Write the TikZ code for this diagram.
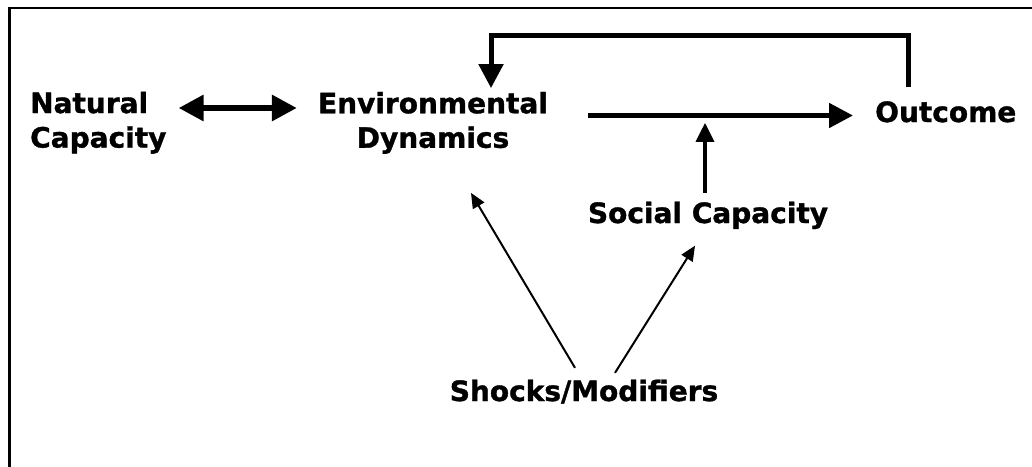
\documentclass[tikz,border=0pt]{standalone}
\usepackage{fontspec}
\setmainfont{DejaVu Sans}
\newfontfamily\lblfont[FakeBold=1.2]{DejaVu Sans Bold}
\usetikzlibrary{arrows.meta,calc}
\begin{document}
\begin{tikzpicture}[x=1pt,y=-1pt,
  lbl/.style={font=\lblfont\fontsize{28}{34.5}\selectfont, inner sep=0pt},
  thickarrow/.style={line width=5pt, -{Triangle[length=24pt,width=24pt]}},
  dblarrow/.style={line width=6pt, {Triangle[length=25pt,width=25pt]}-{Triangle[length=25pt,width=25pt]}},
  midarrow/.style={line width=3.5pt, -{Triangle[length=19pt,width=18pt]}},
  thinarrow/.style={line width=2pt, -{Triangle[length=15pt,width=13pt]}},
  frameline/.style={line width=2.5pt}]
\useasboundingbox (0,0) rectangle (1032,466);
\draw[frameline] (9.5,470) -- (9.5,8) -- (1040,8);

\node[lbl, align=left, anchor=west] (nat) at (30,122.7) {Natural\\Capacity};
\node[lbl, align=center, anchor=center] (env) at (433,122.9) {Environmental\\Dynamics};
\node[lbl, anchor=base west] (out) at (875,122) {Outcome};
\node[lbl, anchor=base] (soc) at (708,223) {Social Capacity};
\node[lbl, anchor=base] (shk) at (584,401) {Shocks/Modifiers};

% double arrow
\draw[dblarrow] ([xshift=12pt,yshift=14.7pt]nat.east) coordinate (ds)
  -- ($(ds -| env.west)+(-21,0)$);
% feedback loop
\draw[thickarrow] ([xshift=-37pt,yshift=14pt]out.north) -- ([xshift=-37pt,yshift=66pt]out.north)
  -| ([xshift=58pt,yshift=3.7pt]env.north);
% main arrow
\draw[thickarrow] ([xshift=40pt,yshift=7.4pt]env.east) coordinate (ms)
  -- ($(ms -| out.west)+(-22,0)$);
% social capacity arrow
\draw[midarrow] ([xshift=-3pt,yshift=8.7pt]soc.north) -- ([xshift=-3pt,yshift=78.7pt]soc.north);
% shocks arrows
\draw[thinarrow] ([xshift=-9pt,yshift=11.7pt]shk.north) -- ([xshift=38pt,yshift=-38.9pt]env.south);
\draw[thinarrow] ([xshift=31pt,yshift=6.7pt]shk.north) -- ([xshift=-13pt,yshift=-16.4pt]soc.south);
\end{tikzpicture}
\end{document}
